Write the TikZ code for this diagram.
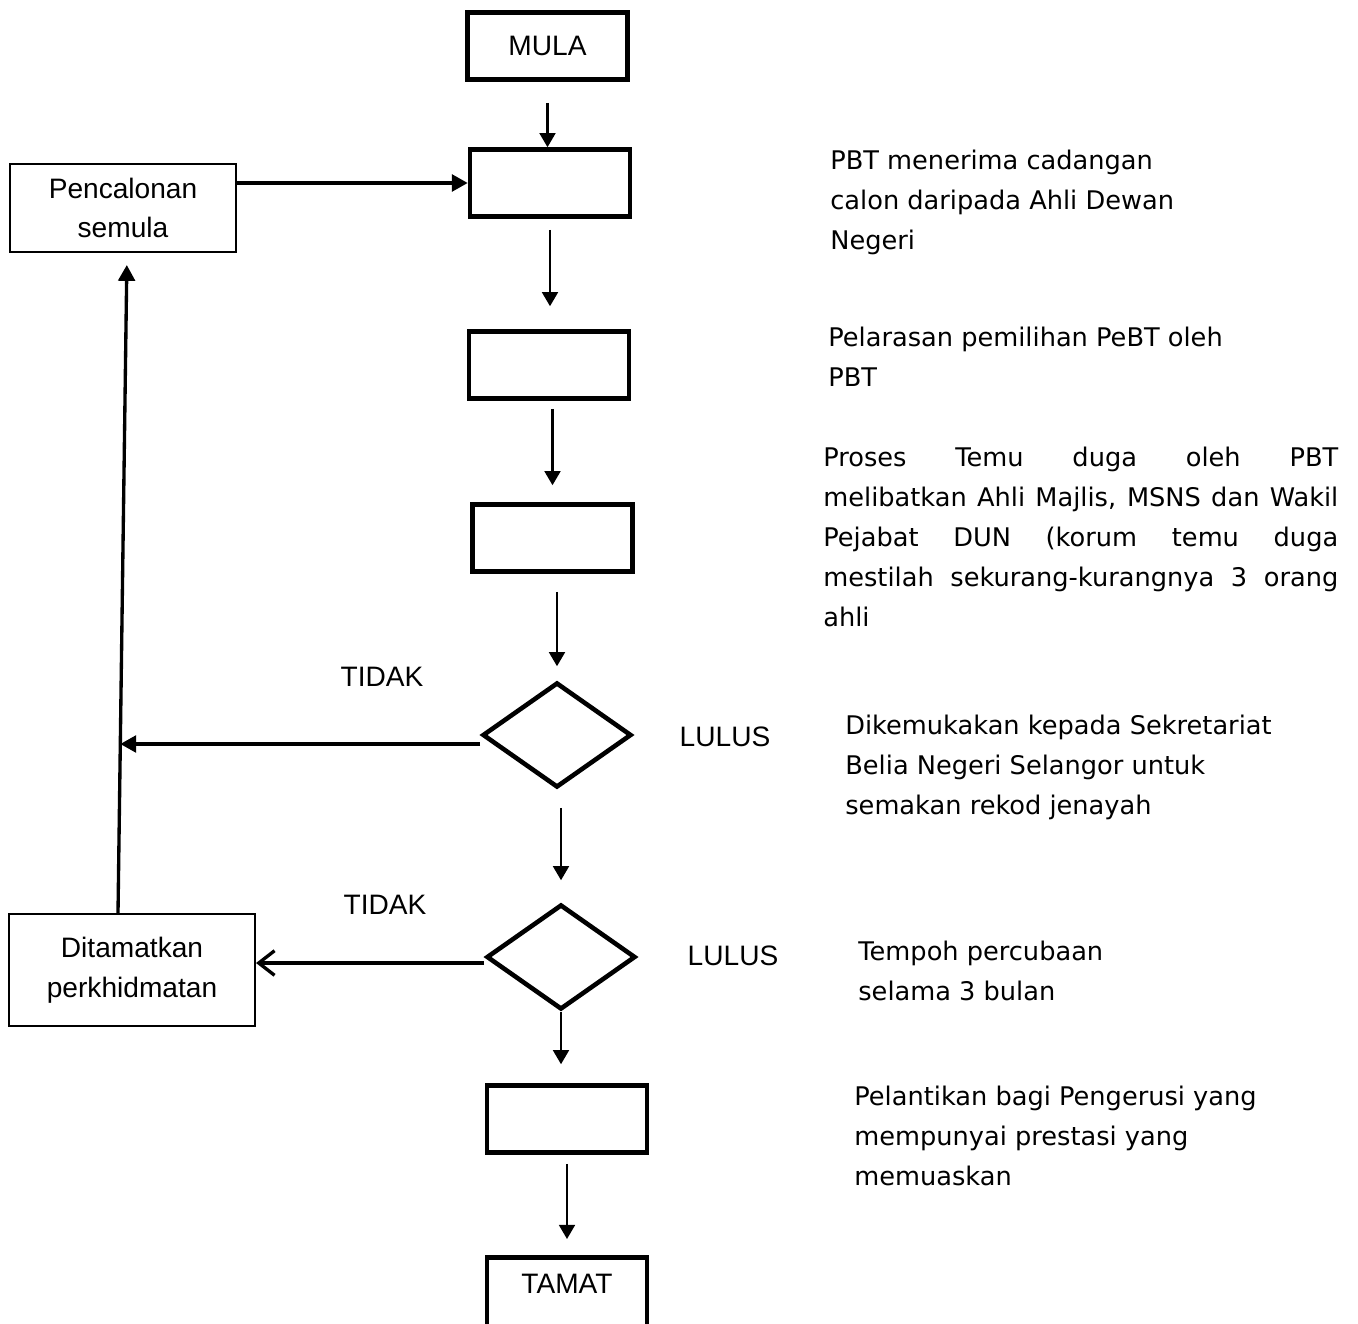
\documentclass[tikz,border=0pt]{standalone}
\usepackage{fontspec}
\setmainfont{Liberation Sans}
\newfontfamily\notefont{DejaVu Sans}
\usetikzlibrary{arrows.meta, positioning, calc, shapes.geometric}
\tolerance=10000
\hbadness=10000

\tikzset{
  stepbox/.style={draw, line width=2.6pt, minimum width=3.2cm, minimum height=1.34cm, inner sep=0pt},
  sidebox/.style={draw, line width=1.2pt, align=center, inner sep=0pt},
  choice/.style={draw, diamond, line width=2.6pt, minimum width=2.98cm, minimum height=2.1cm, inner sep=0pt},
  flow/.style={line width=1.3pt, -{Triangle[length=8pt, width=9pt]}},
  back/.style={line width=1.9pt, -{Triangle[length=9pt, width=9.5pt]}},
  openback/.style={line width=1.9pt, -{Straight Barb[length=9pt, width=14pt]}},
  note/.style={anchor=north west, inner sep=0pt, align=left,
    font=\notefont\fontsize{14.6}{22.7}\selectfont},
}

\begin{document}
\begin{tikzpicture}[x=0.02cm, y=-0.02cm, font=\fontsize{16}{22.7}\selectfont]
  \useasboundingbox (0,0) rectangle (1358,1324);

  \node[stepbox] (mula) at (547.5,46) {MULA};
  \foreach \n/\x/\y in {box1/550/183, box2/549/365, box3/552.5/538, box4/567/1119}{%
    \node[stepbox] (\n) at (\x,\y) {};}
  \node[choice] (dia1) at (557,735) {};
  \node[choice] (dia2) at (561,957) {};
  \node[stepbox, anchor=north, text height=0.72cm, text depth=1cm] (tamat) at (567,1255) {TAMAT};

  \node[sidebox, minimum width=4.52cm, minimum height=1.76cm] (calon) at (123,208) {Pencalonan\\semula};
  \node[sidebox, minimum width=4.92cm, minimum height=2.24cm] (stop) at (132,970) {Ditamatkan\\perkhidmatan};

  \node (tidak1) at (382,677) {TIDAK};
  \node (tidak2) at (385,905) {TIDAK};
  \node (lulus1) at (725,737) {LULUS};
  \node (lulus2) at (733,956) {LULUS};

  \draw[flow, shorten <=0.42cm] (mula.south) -- (mula.south |- box1.north);
  \draw[flow, shorten <=0.22cm, shorten >=0.46cm] (box1.south) -- (box1.south |- box2.north);
  \draw[flow, shorten <=0.16cm, shorten >=0.34cm] (box3.north |- box2.south) -- (box3.north);
  \draw[flow, shorten <=0.36cm, shorten >=0.28cm] (dia1.north |- box3.south) -- (dia1.north);
  \draw[flow, shorten <=0.36cm, shorten >=0.44cm] (dia2.north |- dia1.south) -- (dia2.north);
  \draw[flow, shorten >=0.38cm] (dia2.south) -- (dia2.south |- box4.north);
  \draw[flow, shorten <=0.18cm, shorten >=0.32cm] (box4.south) -- (box4.south |- tamat.north);

  \draw[back] (calon.east |- box1.west) -- (box1.west);
  \coordinate (up0) at ([xshift=-0.28cm]stop.north);
  \coordinate (up1) at ([xshift=0.08cm]calon.south);
  \draw[back, shorten >=0.24cm] (up0) -- (up1);
  \coordinate (no1) at ([yshift=-0.18cm]dia1.west);
  \coordinate (join) at ($(up0)!0.255!(up1)$);
  \draw[back] (no1) -- (no1 -| join);
  \coordinate (no2) at ([yshift=-0.12cm]dia2.west);
  \draw[openback] (no2) -- (no2 -| stop.east);

  \node[note] (n1) at (830,150) {PBT menerima cadangan\\calon daripada Ahli Dewan\\Negeri};
  \node[note] (n2) at (828,327) {Pelarasan pemilihan PeBT oleh\\PBT};
  \node[note, text width=10.3cm, align=justify] (n3) at (823,447)
    {Proses Temu duga oleh PBT\linebreak melibatkan Ahli Majlis, MSNS dan Wakil\linebreak
     Pejabat DUN (korum temu duga\linebreak mestilah sekurang-kurangnya 3 orang\linebreak ahli};
  \node[note] (n4) at (845,715) {Dikemukakan kepada Sekretariat\\Belia Negeri Selangor untuk\\semakan rekod jenayah};
  \node[note] (n5) at (858,941) {Tempoh percubaan\\selama 3 bulan};
  \node[note] (n6) at (854,1086) {Pelantikan bagi Pengerusi yang\\mempunyai prestasi yang\\memuaskan};
\end{tikzpicture}
\end{document}
